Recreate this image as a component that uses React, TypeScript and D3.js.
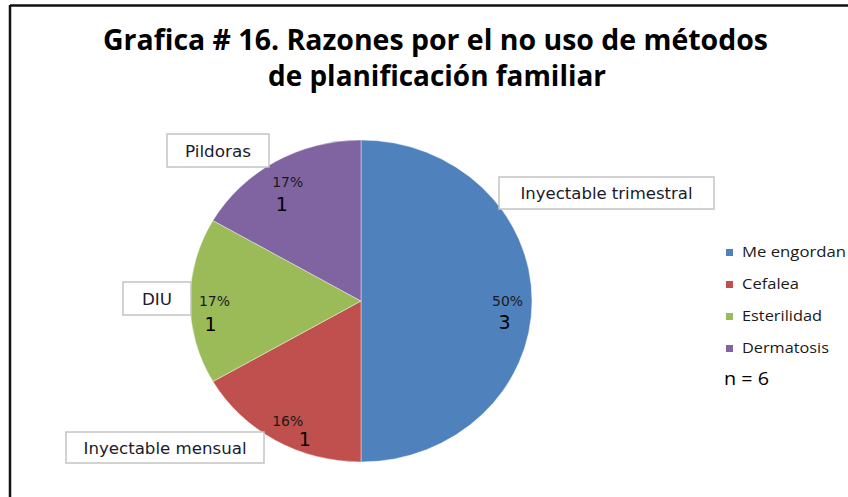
import React from "react";
import * as d3 from "d3";

const titleLines = ["Grafica # 16. Razones por el no uso de métodos", "de planificación familiar"];
const categories = ["Me engordan", "Cefalea", "Esterilidad", "Dermatosis"];
const values = [3, 1, 1, 1];
const percentLabels = ["50%", "16%", "17%", "17%"];
const calloutLabels = ["Inyectable trimestral", "Inyectable mensual", "DIU", "Pildoras"];
const colors = ["#4F81BD", "#C0504D", "#9BBB59", "#8064A2"];
const sampleNote = "n = 6";

// layout (annotation boxes, not data)
const calloutBoxes = [
  { x: 499, y: 177, w: 215, h: 32, tw: 172 },
  { x: 66, y: 432, w: 198, h: 31, tw: 163 },
  { x: 123, y: 282, w: 68, h: 33, tw: 30 },
  { x: 167, y: 134, w: 102, h: 33, tw: 66 },
];
const valueDx = [-3, 17, -4, -6];
const valueDy = [28, 25, 30, 29];
const legendTextWidths = [104, 57, 80, 87];

const W = 848;
const H = 497;
const cx = 361;
const cy = 301;
const R = 161;
const SX = 171 / 161; // horizontal stretch seen in the reference

export default function App() {
  const pie = d3.pie<number>().sort(null).value((d) => d)(values);
  const arc = d3.arc<d3.PieArcDatum<number>>().innerRadius(0).outerRadius(R);
  const labelArc = d3.arc<d3.PieArcDatum<number>>().innerRadius(138).outerRadius(138);

  const legendY = d3.scaleLinear().domain([0, 1]).range([249, 281]);

  return (
    <svg
      width={W}
      height={H}
      style={{ position: "absolute", left: 0, top: 0, background: "#fff" }}
    >
      <rect x={0} y={0} width={W} height={H} fill="#fff" />
      {/* frame */}
      <line x1={10} y1={5.5} x2={W} y2={5.5} stroke="#111" strokeWidth={2.5} />
      <line x1={10} y1={5} x2={10} y2={H} stroke="#111" strokeWidth={2.5} />

      {/* title */}
      <text
        x={103}
        y={50}
        fontFamily="'Open Sans', sans-serif"
        fontWeight={700}
        fontSize={29}
        fill="#000"
        textLength={665}
        lengthAdjust="spacingAndGlyphs"
      >
        {titleLines[0]}
      </text>
      <text
        x={268}
        y={86}
        fontFamily="'Open Sans', sans-serif"
        fontWeight={700}
        fontSize={29}
        fill="#000"
        textLength={338}
        lengthAdjust="spacingAndGlyphs"
      >
        {titleLines[1]}
      </text>

      {/* pie */}
      <g transform={`translate(${cx},${cy}) scale(${SX},1)`}>
        {pie.map((d, i) => (
          <path
            key={i}
            d={arc(d) || ""}
            fill={colors[i]}
            stroke="#ffffff"
            strokeOpacity={0.5}
            strokeWidth={0.8}
          />
        ))}
      </g>
      <g transform={`translate(${cx},${cy})`}>
        {pie.map((d, i) => {
          const [lx0, ly] = labelArc.centroid(d);
          const lx = lx0 * SX;
          return (
            <g key={"l" + i}>
              <text
                x={lx}
                y={ly + 5}
                textAnchor="middle"
                fontFamily="'DejaVu Sans', sans-serif"
                fontSize={14.5}
                fill="#1a1a1a"
                textLength={31}
                lengthAdjust="spacingAndGlyphs"
              >
                {percentLabels[i]}
              </text>
              <text
                x={lx + valueDx[i]}
                y={ly + valueDy[i]}
                textAnchor="middle"
                fontFamily="'DejaVu Sans', sans-serif"
                fontSize={19}
                fill="#000"
              >
                {values[i]}
              </text>
            </g>
          );
        })}
      </g>

      {/* callouts */}
      {calloutLabels.map((t, i) => {
        const b = calloutBoxes[i];
        return (
          <g key={"c" + i}>
            <rect
              x={b.x}
              y={b.y}
              width={b.w}
              height={b.h}
              fill="#fff"
              stroke="#c4c4c4"
              strokeWidth={1.5}
            />
            <text
              x={b.x + b.w / 2}
              y={b.y + b.h / 2 + 6}
              textAnchor="middle"
              fontFamily="'DejaVu Sans', sans-serif"
              fontSize={16}
              fill="#1a1a2a"
              textLength={b.tw}
              lengthAdjust="spacingAndGlyphs"
            >
              {t}
            </text>
          </g>
        );
      })}

      {/* legend */}
      {categories.map((c, i) => (
        <g key={"g" + i}>
          <rect x={726} y={legendY(i)} width={7} height={7} fill={colors[i]} />
          <text
            x={742}
            y={legendY(i) + 8}
            fontFamily="'Open Sans', sans-serif"
            fontSize={14.5}
            fill="#1a1a1a"
            textLength={legendTextWidths[i]}
            lengthAdjust="spacingAndGlyphs"
          >
            {c}
          </text>
        </g>
      ))}
      <text
        x={724}
        y={385}
        fontFamily="'Open Sans', sans-serif"
        fontSize={19}
        fill="#000"
        textLength={45}
        lengthAdjust="spacingAndGlyphs"
      >
        {sampleNote}
      </text>
    </svg>
  );
}
